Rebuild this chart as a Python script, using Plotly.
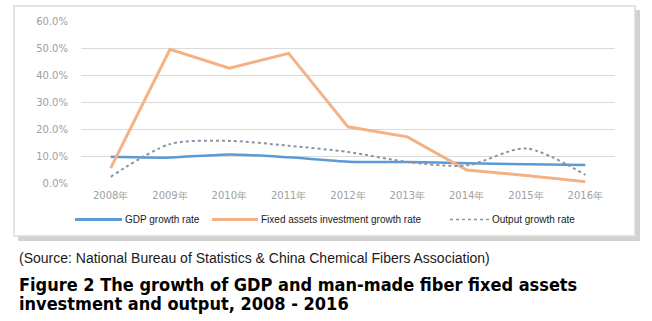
import plotly.graph_objects as go

# Years (category axis) and growth rates in percent
years = ["2008年", "2009年", "2010年", "2011年", "2012年", "2013年", "2014年", "2015年", "2016年"]
gdp_growth = [9.7, 9.4, 10.6, 9.5, 7.9, 7.8, 7.3, 6.9, 6.7]
fixed_assets_growth = [5.5, 49.5, 42.5, 48.0, 20.8, 17.1, 4.8, 2.8, 0.5]
output_growth = [2.3, 14.4, 15.6, 13.8, 11.5, 7.8, 6.5, 12.8, 3.0]
y_ticks = [0, 10, 20, 30, 40, 50, 60]
y_tick_text = ["0.0%", "10.0%", "20.0%", "30.0%", "40.0%", "50.0%", "60.0%"]

W, H = 652, 321
PL, PR, PT, PB = 81, 615, 21, 183  # plot area in pixels

BLUE = "#5B9BD5"
ORANGE = "#F4B183"
GREY = "#8A94A6"


def px(x):
    return (x - PL) / (PR - PL)


def py(y):
    return (PB - y) / (PB - PT)


fig = go.Figure()
fig.add_trace(go.Scatter(x=years, y=gdp_growth, mode="lines", name="GDP growth rate",
                         line=dict(color=BLUE, width=2.5, shape="spline", smoothing=0.6)))
fig.add_trace(go.Scatter(x=years, y=fixed_assets_growth, mode="lines",
                         name="Fixed assets investment growth rate",
                         line=dict(color=ORANGE, width=3)))
fig.add_trace(go.Scatter(x=years, y=output_growth, mode="lines", name="Output growth rate",
                         line=dict(color=GREY, width=2, dash="dot", shape="spline", smoothing=0.8)))

shapes = [
    # frame shadow and frame
    dict(type="rect", xref="paper", yref="paper", x0=px(18), x1=px(640), y0=py(241), y1=py(10),
         fillcolor="#d2d2d0", line=dict(width=0), layer="below"),
    dict(type="rect", xref="paper", yref="paper", x0=px(14), x1=px(635), y0=py(236), y1=py(6),
         fillcolor="white", line=dict(color="#dcdcd4", width=1.5), layer="below"),
]

# legend keys
leg_y = py(219.5)
shapes += [
    dict(type="line", xref="paper", yref="paper", x0=px(75), x1=px(122), y0=leg_y, y1=leg_y,
         line=dict(color=BLUE, width=3)),
    dict(type="line", xref="paper", yref="paper", x0=px(212), x1=px(258), y0=leg_y, y1=leg_y,
         line=dict(color=ORANGE, width=3)),
    dict(type="line", xref="paper", yref="paper", x0=px(450), x1=px(489), y0=leg_y, y1=leg_y,
         line=dict(color=GREY, width=1.5, dash="dot")),
]

LEG_FONT = dict(family="Liberation Sans", size=10, color="#1a1a1a")
annotations = [
    dict(text="GDP growth rate", x=px(123), y=leg_y, xanchor="left", yanchor="middle"),
    dict(text="Fixed assets investment growth rate", x=px(259), y=leg_y, xanchor="left", yanchor="middle"),
    dict(text="Output growth rate", x=px(490), y=leg_y, xanchor="left", yanchor="middle"),
]
for a in annotations:
    a.update(xref="paper", yref="paper", showarrow=False, font=LEG_FONT)

TITLE_FONT = dict(family="DejaVu Sans Condensed", size=18, color="black")
annotations += [
    dict(text="(Source: National Bureau of Statistics & China Chemical Fibers Association)",
         x=px(17), y=py(258), xref="paper", yref="paper", xanchor="left", yanchor="middle",
         showarrow=False, font=dict(family="Liberation Sans", size=14, color="#1a1a1a")),
    dict(text="<b>Figure 2 The growth of GDP and man-made fiber fixed assets</b>",
         x=px(17), y=py(284.5), xref="paper", yref="paper", xanchor="left", yanchor="middle",
         showarrow=False, font=TITLE_FONT),
    dict(text="<b>investment and output, 2008 - 2016</b>",
         x=px(17), y=py(303), xref="paper", yref="paper", xanchor="left", yanchor="middle",
         showarrow=False, font=TITLE_FONT),
]

fig.update_layout(
    width=W, height=H,
    margin=dict(l=PL, r=W - PR, t=PT, b=H - PB, pad=0),
    paper_bgcolor="white", plot_bgcolor="rgba(0,0,0,0)",
    showlegend=False,
    shapes=shapes, annotations=annotations,
    xaxis=dict(type="category", range=[-0.5, len(years) - 0.5],
               showgrid=False, zeroline=False, showline=False,
               ticks="", tickfont=dict(family="DejaVu Sans", size=10, color="#a0a0a0"),
               ticklabelstandoff=5, fixedrange=True),
    yaxis=dict(range=[0, 60], tickvals=y_ticks, ticktext=y_tick_text,
               showgrid=True, gridcolor="#dadada", gridwidth=1, zeroline=False, showline=False,
               ticks="", tickfont=dict(family="DejaVu Sans", size=10, color="#a0a0a0"),
               ticklabelstandoff=12, fixedrange=True),
)

fig.write_html("out.html")
